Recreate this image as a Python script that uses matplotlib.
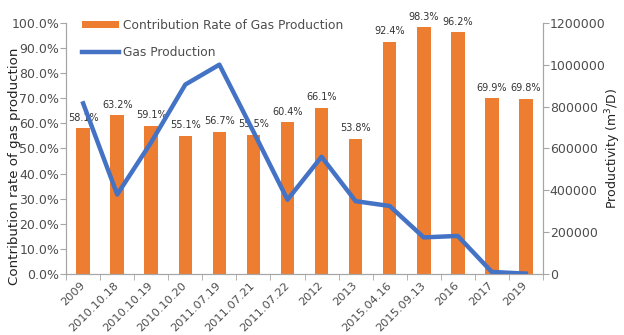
import numpy as np
import matplotlib
matplotlib.use('Agg')
import matplotlib.pyplot as plt
from matplotlib.patches import Patch
from matplotlib.lines import Line2D

### Data
dates = ['2009', '2010.10.18', '2010.10.19', '2010.10.20', '2011.07.19',
         '2011.07.21', '2011.07.22', '2012', '2013', '2015.04.16',
         '2015.09.13', '2016', '2017', '2019']
rate = [58.1, 63.2, 59.1, 55.1, 56.7, 55.5, 60.4, 66.1, 53.8, 92.4,
        98.3, 96.2, 69.9, 69.8]
gas = [815000, 380000, 630000, 905000, 1000000, 680000, 355000, 560000,
       348000, 325000, 175000, 182000, 10000, 2000]

orange = '#ED7D31'
blue = '#4472C4'
grey = '#4D4D4D'
spinec = '#A6A6A6'

fig = plt.figure(figsize=(6.24, 3.35), dpi=100)
ax = fig.add_axes([0.106, 0.182, 0.764, 0.750])
ax2 = ax.twinx()

x = np.arange(len(dates))
ax.bar(x, rate, width=0.4, color=orange, zorder=2)
for xi, r in zip(x, rate):
    ax.text(xi, r + 2.2, '%.1f%%' % r, ha='center', va='bottom',
            fontsize=7, color='#333333')

ax2.plot(x, gas, color=blue, linewidth=3.2, zorder=3)

### Axes
ax.set_xlim(-0.5, len(dates) - 0.5)
ax.set_ylim(0, 100)
ax2.set_ylim(0, 1200000)
ax.set_yticks(np.arange(0, 101, 10))
ax.set_yticklabels(['%.1f%%' % v for v in np.arange(0, 101, 10)])
ax2.set_yticks(np.arange(0, 1200001, 200000))
ax2.set_yticklabels([str(v) for v in np.arange(0, 1200001, 200000)])

ax.set_xticks(x)
ax.set_xticklabels(dates, rotation=45, ha='right', va='center',
                   rotation_mode='anchor')
ax.set_xticks(np.arange(-0.5, len(dates), 1), minor=True)
ax.tick_params(axis='x', which='major', length=0, pad=7,
               labelsize=8.2, labelcolor=grey)
ax.tick_params(axis='x', which='minor', length=4, color=spinec)
ax.tick_params(axis='y', length=4, color=spinec, labelsize=9,
               labelcolor=grey, pad=1)
ax2.tick_params(axis='y', length=4, color=spinec, labelsize=9,
                labelcolor=grey, pad=1)

for a in (ax, ax2):
    a.spines['top'].set_visible(False)
    for s in ('left', 'right', 'bottom'):
        a.spines[s].set_color(spinec)

ax.set_ylabel('Contribution rate of gas production', fontsize=9.6,
              color='#222222')
ax.yaxis.set_label_coords(-0.095, 0.43)
ax2.set_ylabel('Productivity (m$^3$/D)', fontsize=9,
               color='#222222')
ax2.yaxis.set_label_coords(1.126, 0.5)

handles = [Patch(facecolor=orange), Line2D([0], [0], color=blue, linewidth=3.2)]
leg = ax2.legend(handles, ['Contribution Rate of Gas Production', 'Gas Production'],
                 loc='upper left', bbox_to_anchor=(0.01, 1.06), frameon=False,
                 fontsize=8.8, handlelength=3.0, handleheight=0.45,
                 labelspacing=1.15, handletextpad=0.4)
for t in leg.get_texts():
    t.set_color(grey)

fig.savefig('out.png', dpi=100)
